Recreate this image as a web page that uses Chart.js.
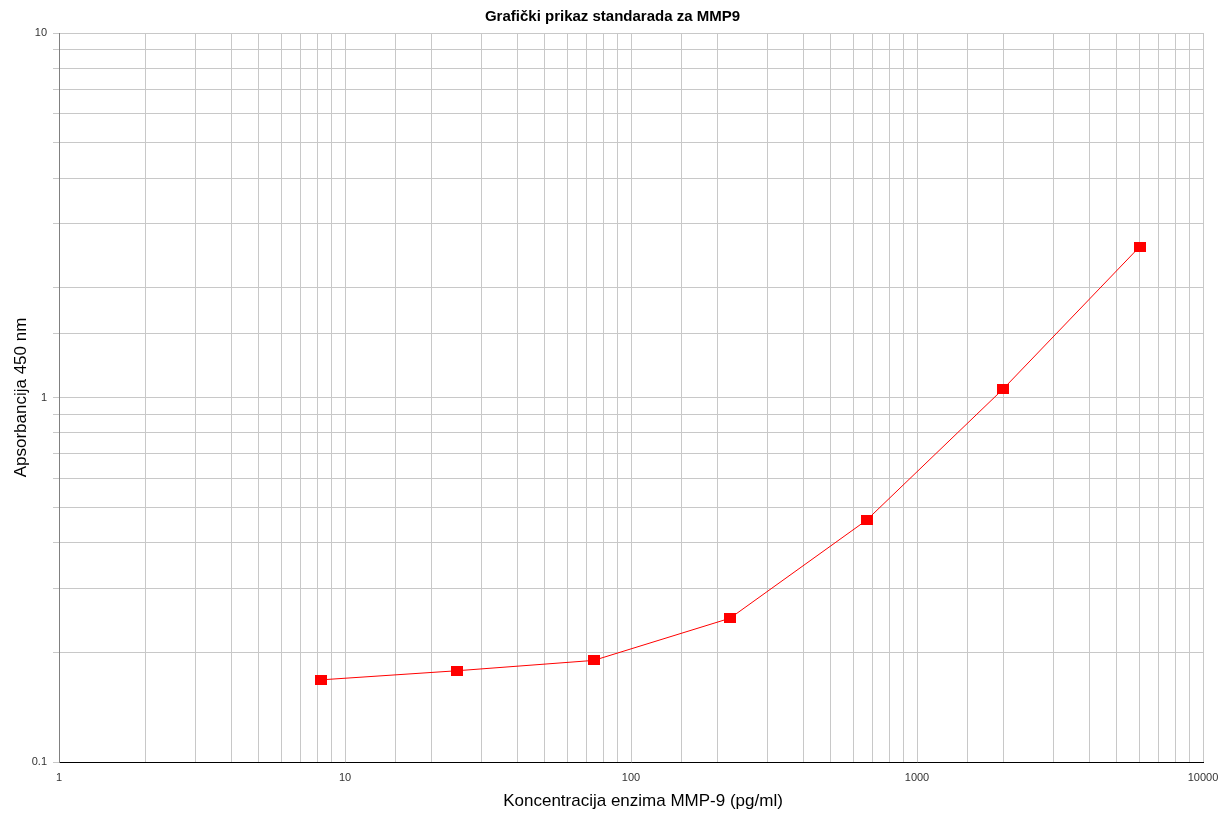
<!DOCTYPE html>
<html>
<head>
<meta charset="utf-8">
<script src="https://cdn.jsdelivr.net/npm/chart.js@4/dist/chart.umd.min.js"></script>
<style>
  html, body { margin: 0; padding: 0; background: #fff; }
  #wrap { width: 1225px; height: 818px; }
</style>
</head>
<body>
<div id="wrap"><canvas id="chart" width="1225" height="818"></canvas></div>
<script>
// Standard curve data (serial 1:3 dilutions)
const concentrations = [8.23, 24.7, 74.1, 222, 667, 2000, 6000];
const absorbance = [0.168, 0.178, 0.190, 0.248, 0.461, 1.055, 2.59];
const xTickLabels = ['1', '10', '100', '1000', '10000'];
const yTickLabels = ['0.1', '1', '10'];

const chartTitle = 'Grafički prikaz standarada za MMP9';
const xTitle = 'Koncentracija enzima MMP-9 (pg/ml)';
const yTitle = 'Apsorbancija 450 nm';

// square marker, slightly wider than tall
const marker = document.createElement('canvas');
marker.width = 12;
marker.height = 10;
const mctx = marker.getContext('2d');
mctx.fillStyle = '#ff0000';
mctx.fillRect(0, 0, 12, 10);

function majorLabel(list) {
  return function(value) {
    const s = String(value);
    return list.includes(s) ? s : '';
  };
}

// Titles drawn relative to the chart area
const titlesPlugin = {
  id: 'titles',
  afterDraw(chart) {
    const ctx = chart.ctx;
    const area = chart.chartArea;
    ctx.save();
    ctx.fillStyle = '#000';
    ctx.textAlign = 'center';
    ctx.textBaseline = 'middle';
    ctx.font = 'bold 15px "Liberation Sans", Arial, sans-serif';
    ctx.fillText(chartTitle, chart.width / 2, 17);
    ctx.font = '17px "Liberation Sans", Arial, sans-serif';
    ctx.fillText(xTitle, (area.left + area.right) / 2 + 12, 801);
    ctx.translate(21, (area.top + area.bottom) / 2);
    ctx.rotate(-Math.PI / 2);
    ctx.fillText(yTitle, 0, 0);
    ctx.restore();
  }
};

new Chart(document.getElementById('chart'), {
  type: 'line',
  data: {
    datasets: [{
      data: concentrations.map((c, i) => ({ x: c, y: absorbance[i] })),
      borderColor: '#ff0000',
      borderWidth: 1,
      tension: 0,
      pointStyle: marker,
      pointRadius: 6,
      pointHoverRadius: 6
    }]
  },
  options: {
    responsive: false,
    animation: false,
    devicePixelRatio: 1,
    layout: { padding: { top: 33, right: 22, left: 0, bottom: 0 } },
    plugins: {
      legend: { display: false },
      title: { display: false },
      tooltip: { enabled: false }
    },
    scales: {
      x: {
        type: 'logarithmic',
        min: 1,
        max: 10000,
        border: { color: '#000', width: 1 },
        grid: { color: '#c8c8c8', drawTicks: false },
        ticks: {
          autoSkip: false,
          maxRotation: 0,
          padding: 9,
          color: '#333',
          font: { family: '"Liberation Sans", Arial, sans-serif', size: 11 },
          callback: majorLabel(xTickLabels)
        },
        afterFit(scale) {
          scale.height = 56;
          scale.paddingLeft = 0;
          scale.paddingRight = 0;
        }
      },
      y: {
        type: 'logarithmic',
        min: 0.1,
        max: 10,
        border: { color: '#808080', width: 1 },
        grid: { color: '#c8c8c8', tickLength: 6, tickColor: '#c8c8c8' },
        ticks: {
          autoSkip: false,
          padding: 6,
          color: '#333',
          font: { family: '"Liberation Sans", Arial, sans-serif', size: 11 },
          callback: majorLabel(yTickLabels)
        },
        afterFit(scale) {
          scale.width = 59;
          scale.paddingTop = 0;
          scale.paddingBottom = 0;
        }
      }
    }
  },
  plugins: [titlesPlugin]
});
</script>
</body>
</html>
